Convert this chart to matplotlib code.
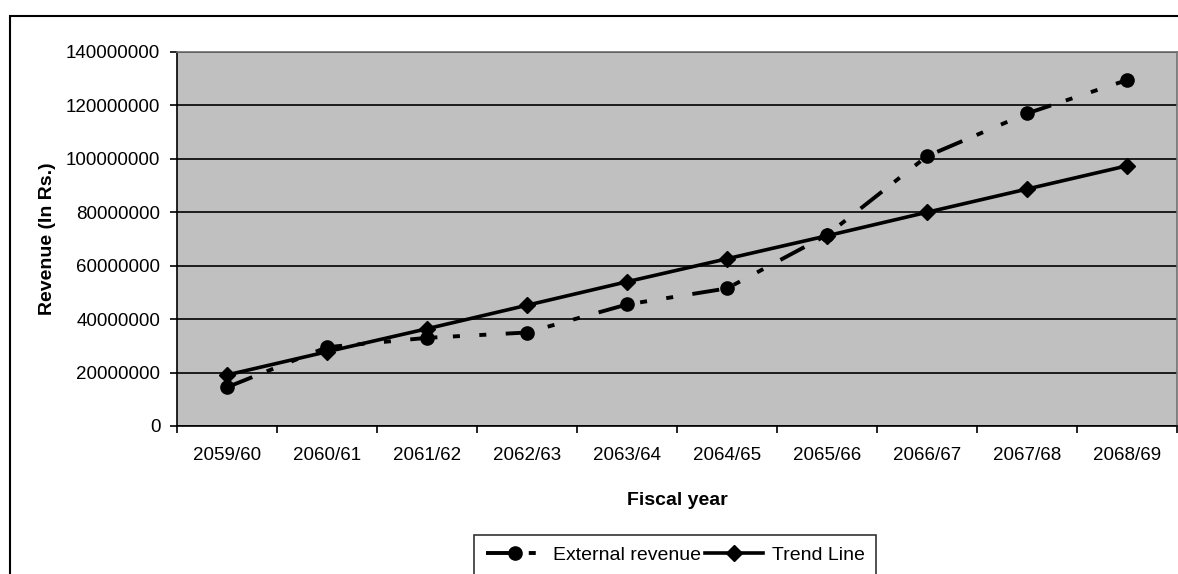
import matplotlib.pyplot as plt
import matplotlib.patches as patches
import numpy as np

plt.rcParams['font.family'] = ['Liberation Sans', 'DejaVu Sans']

# Fiscal years and revenue (Rs.)
years = ["2059/60", "2060/61", "2061/62", "2062/63", "2063/64",
         "2064/65", "2065/66", "2066/67", "2067/68", "2068/69"]
external = [14500000, 29500000, 33000000, 35000000, 45500000,
            51500000, 71500000, 101000000, 117000000, 129500000]
trend = [19100000, 27800000, 36400000, 45200000, 54000000,
         62600000, 71200000, 80000000, 88700000, 97400000]

fig = plt.figure(figsize=(11.78, 5.74), dpi=100)
ax = fig.add_axes([177/1178, 1 - 426/574, 1000/1178, (426 - 52)/574])
ax.set_facecolor('#c0c0c0')

x = np.arange(len(years))
ax.plot(x, external, color='black', lw=2.8, marker='o', ms=9.5,
        dashes=(7, 4, 1.8, 5, 1.8, 5), label='External revenue', zorder=3)
ax.plot(x, trend, color='black', lw=2.6, marker='D', ms=8,
        label='Trend Line', zorder=4)

ax.set_xlim(-0.5, len(years) - 0.5)
ax.set_ylim(0, 140000000)
ax.set_yticks(np.arange(0, 140000001, 20000000))
ax.yaxis.set_major_formatter(plt.FuncFormatter(lambda v, p: f'{v:.0f}'))
ax.grid(axis='y', color='black', lw=1.2)
ax.set_axisbelow(True)

ax.set_xticks(x)
ax.set_xticklabels(years)
ax.set_xticks(np.arange(-0.5, len(years)), minor=True)
ax.tick_params(axis='x', which='major', length=0, pad=15, labelsize=13.5)
ax.tick_params(axis='x', which='minor', length=5, width=1.2, direction='out')
ax.tick_params(axis='y', length=5, width=1.2, pad=7, labelsize=13.5)

for s in ['top', 'right']:
    ax.spines[s].set_color('#707070')
    ax.spines[s].set_linewidth(1.2)
for s in ['left', 'bottom']:
    ax.spines[s].set_linewidth(1.2)

ax.set_xlabel('Fiscal year', fontsize=14, fontweight='bold', labelpad=20)
ax.set_ylabel('Revenue (In Rs.)', fontsize=14, fontweight='bold', labelpad=7)

# outer chart border (runs off the right and bottom edges)
fig.patches.append(patches.Rectangle((10/1178, -0.2), 1.2, 1.2 - 16/574,
                                     transform=fig.transFigure, fill=False,
                                     edgecolor='black', lw=1.5))

leg = fig.legend(loc='upper center', bbox_to_anchor=(675/1178, 1 - 535/574),
                 ncol=2, fontsize=14, frameon=True, fancybox=False,
                 edgecolor='black', handlelength=3.0, handletextpad=0.45,
                 columnspacing=0.2, borderpad=0.6, borderaxespad=0)
leg.get_frame().set_linewidth(1.2)

fig.savefig('out.png', dpi=100)
